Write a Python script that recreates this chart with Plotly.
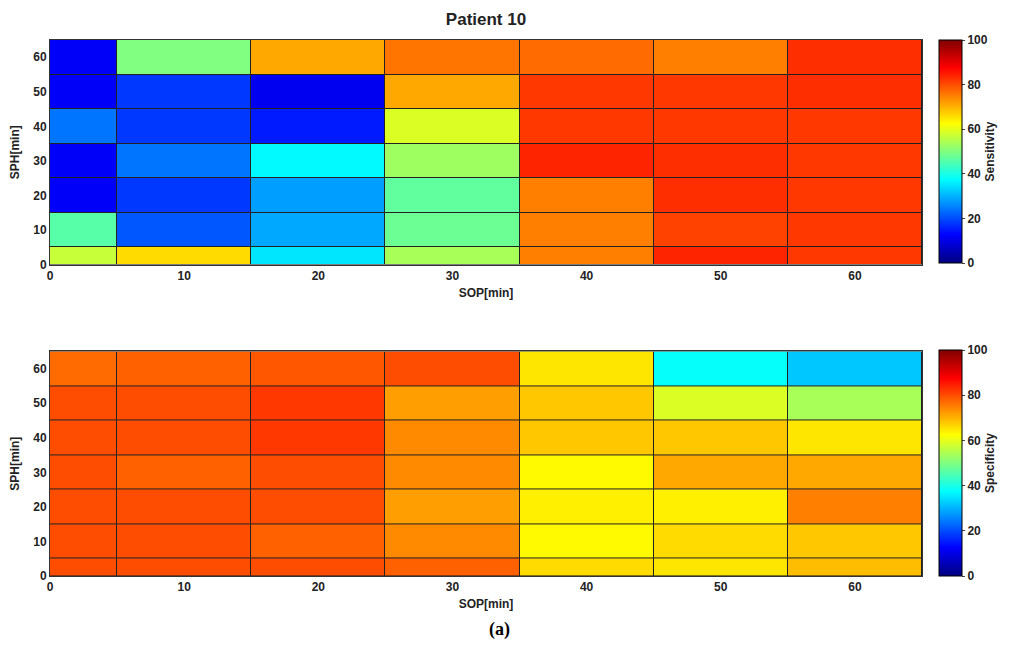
import plotly.graph_objects as go
from plotly.subplots import make_subplots

sop_edges = [0, 5, 15, 25, 35, 45, 55, 65]
sph_edges = [0, 5, 15, 25, 35, 45, 55, 65]
tick_vals = [0, 10, 20, 30, 40, 50, 60]
cbar_ticks = [0, 20, 40, 60, 80, 100]

# rows listed from SPH=0 (bottom) to SPH=60 (top); columns SOP=0..60
sensitivity = [
    [57, 66, 35, 54, 75, 84, 82],
    [46, 21, 29, 48, 75, 81, 82],
    [12, 18, 28, 47, 75, 83, 82],
    [12, 24, 37, 53, 84, 83, 82],
    [24, 18, 15, 59, 82, 82, 82],
    [12, 18, 11, 71, 82, 82, 83],
    [12, 50, 71, 76, 77, 75, 83],
]
specificity = [
    [80, 80, 80, 78, 66, 65, 69],
    [80, 80, 78, 74, 63, 66, 68],
    [80, 80, 80, 72, 64, 64, 75],
    [80, 78, 80, 74, 63, 71, 71],
    [80, 80, 82, 74, 68, 68, 65],
    [80, 80, 82, 72, 68, 59, 54],
    [77, 78, 79, 80, 65, 38, 32],
]

jet = [
    [0.0, "rgb(0,0,128)"],
    [0.125, "rgb(0,0,255)"],
    [0.375, "rgb(0,255,255)"],
    [0.625, "rgb(255,255,0)"],
    [0.875, "rgb(255,0,0)"],
    [1.0, "rgb(128,0,0)"],
]

fig = make_subplots(rows=2, cols=1, vertical_spacing=0.162)

font_b = dict(family="Liberation Sans, Arial", size=12, color="#222")

def cbar(title, y, ln):
    return dict(
        title=dict(text="<b>" + title + "</b>", side="right", font=font_b),
        tickvals=cbar_ticks,
        ticktext=["<b>%d</b>" % v for v in cbar_ticks],
        tickfont=font_b,
        thickness=23,
        len=ln,
        y=y,
        yanchor="top",
        x=1.019,
        xanchor="left",
        outlinecolor="black",
        outlinewidth=1,
        ticks="outside",
        ticklen=3,
        xpad=0,
        ypad=0,
    )

fig.add_trace(go.Heatmap(
    x=sop_edges, y=sph_edges, z=sensitivity, colorscale=jet, zmin=0, zmax=100,
    xgap=1, ygap=1, colorbar=cbar("Sensitivity", 1.0, 0.416),
    hovertemplate="SOP %{x}<br>SPH %{y}<br>%{z}<extra></extra>"), row=1, col=1)
fig.add_trace(go.Heatmap(
    x=sop_edges, y=sph_edges, z=specificity, colorscale=jet, zmin=0, zmax=100,
    xgap=1, ygap=1, colorbar=cbar("Specificity", 0.4216, 0.4216),
    hovertemplate="SOP %{x}<br>SPH %{y}<br>%{z}<extra></extra>"), row=2, col=1)

for r in (1, 2):
    fig.update_xaxes(row=r, col=1, range=[0, 65], tickvals=tick_vals, automargin=False,
                     ticktext=["<b>%d</b>" % v for v in tick_vals], tickfont=font_b,
                     showgrid=False, zeroline=False, showline=True, linecolor="#333",
                     mirror=True, ticks="", title=dict(text="<b>SOP[min]</b>", font=font_b, standoff=6))
    fig.update_yaxes(row=r, col=1, range=[0, 65], tickvals=tick_vals, automargin=False,
                     ticktext=["<b>%d</b>" % v for v in tick_vals], tickfont=font_b,
                     showgrid=False, zeroline=False, showline=True, linecolor="#333",
                     mirror=True, ticks="", title=dict(text="<b>SPH[min]</b>", font=font_b, standoff=12))

fig.update_layout(
    width=1006, height=641,
    margin=dict(l=42, r=92, t=32, b=73, autoexpand=False),
    paper_bgcolor="white",
    plot_bgcolor="#222",
    title=dict(text="<b>Patient 10</b>", x=0.5, xref="paper", xanchor="center",
               y=0.982, yanchor="middle",
               font=dict(family="Liberation Sans, Arial", size=17, color="#222")),
    annotations=[dict(text="<b>(a)</b>", xref="paper", yref="paper", x=0.516, y=-0.1,
                      xanchor="center", yanchor="middle", showarrow=False,
                      font=dict(family="Liberation Serif, Times New Roman", size=18, color="black"))],
)

fig.write_html("out.html")
